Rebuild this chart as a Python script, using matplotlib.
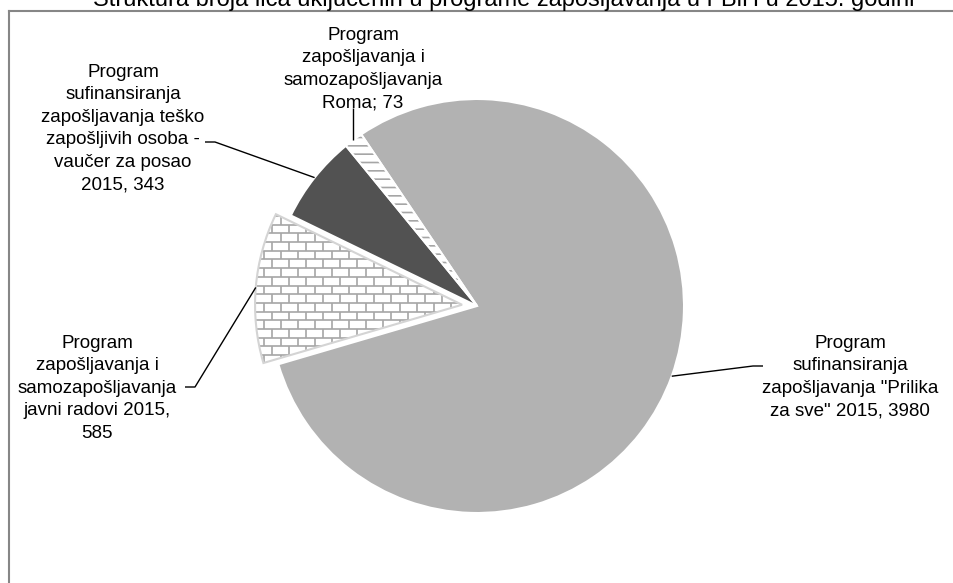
import numpy as np
import matplotlib.pyplot as plt
from matplotlib.patches import Wedge
from matplotlib.collections import LineCollection

plt.rcParams['font.family'] = ['Liberation Sans', 'DejaVu Sans']
plt.rcParams['hatch.linewidth'] = 1.2

W, H = 954, 583  # figure size in pixels, data coords = pixels (y up)

title = "Struktura broja lica uključenih u programe zapošljavanja u FBiH u 2015. godini"

programs = [
    'Program\nsufinansiranja\nzapošljavanja "Prilika\nza sve" 2015',
    'Program\nzapošljavanja i\nsamozapošljavanja\njavni radovi 2015',
    'Program\nsufinansiranja\nzapošljavanja teško\nzapošljivih osoba -\nvaučer za posao\n2015',
    'Program\nzapošljavanja i\nsamozapošljavanja\nRoma',
]
counts = [3980, 585, 343, 73]
separators = [', ', ',\n', ', ', '; ']
slice_colors = ['#b2b2b2', 'white', '#525252', 'white']

# label placement (pixel x, pixel y of text top) and leader elbows (pixels)
label_pos = [(850, 335), (97, 335), (123, 64), (363, 27)]
elbows = [[(763, 366), (753, 366)],
          [(185, 387), (195, 387)],
          [(205, 142), (215, 142)],
          [(353, 108)]]

fig = plt.figure(figsize=(W / 100, H / 100), dpi=100)
ax = fig.add_axes([0, 0, 1, 1])

wedges, _ = ax.pie(counts, startangle=124, counterclock=False,
                   center=(477, H - 306), radius=207,
                   explode=[0, 15, 0, 0], colors=slice_colors,
                   wedgeprops=dict(edgecolor='white', linewidth=1.5))
ax.set_xlim(0, W)
ax.set_ylim(0, H)
ax.set_aspect('equal')
ax.axis('off')

# brick texture on the exploded slice
w = wedges[1]
w.set_edgecolor('none')
cx, cy = w.center
r = w.r
bh, bw = 8.7, 17
segs = []
for i, y0 in enumerate(np.arange(cy - r, cy + r, bh)):
    segs.append([(cx - r, y0), (cx + r, y0)])
    off = 0 if i % 2 == 0 else bw / 2
    for x0 in np.arange(cx - r - off, cx + r, bw):
        segs.append([(x0, y0), (x0, y0 + bh)])
lc = LineCollection(segs, colors='#a6a6a6', linewidths=1.2, zorder=w.get_zorder() + 0.1)
ax.add_collection(lc)
lc.set_clip_path(w)
ax.add_patch(Wedge(w.center, w.r, w.theta1, w.theta2, fill=False,
                   edgecolor='#d4d4d4', lw=1.5, zorder=w.get_zorder() + 0.2))

# horizontal-line texture on the Roma slice
w = wedges[3]
w.set_hatch('--')
w.set_edgecolor('#a6a6a6')
w.set_linewidth(0)
ax.add_patch(Wedge(w.center, w.r, w.theta1, w.theta2, fill=False,
                   edgecolor='white', lw=1.5, zorder=w.get_zorder() + 0.2))

# labels and leader lines
for wd, prog, sep, n, (lx, ly), elb in zip(wedges, programs, separators, counts, label_pos, elbows):
    ax.text(lx, H - ly, f"{prog}{sep}{n}", ha='center', va='top', fontsize=13.5,
            linespacing=1.42, multialignment='center', color='black')
    tm = np.deg2rad((wd.theta1 + wd.theta2) / 2)
    ax_, ay_ = wd.center[0] + wd.r * np.cos(tm), wd.center[1] + wd.r * np.sin(tm)
    if len(elb) == 1:
        pts = [(ax_, H - elb[0][1]), (ax_, ay_)]
    else:
        pts = [(x, H - y) for x, y in elb] + [(ax_, ay_)]
    xs, ys = zip(*pts)
    ax.plot(xs, ys, color='black', lw=1.0, solid_capstyle='butt')

# chart frame (only top and left edges fall inside the picture)
ax.plot([9, W], [H - 11, H - 11], color='#868686', lw=1.5)
ax.plot([9, 9], [H - 11, 0], color='#868686', lw=1.5)

ax.text(504, H - 6, title, ha='center', va='baseline', fontsize=17, color='black')

fig.savefig('out.png', dpi=100)
